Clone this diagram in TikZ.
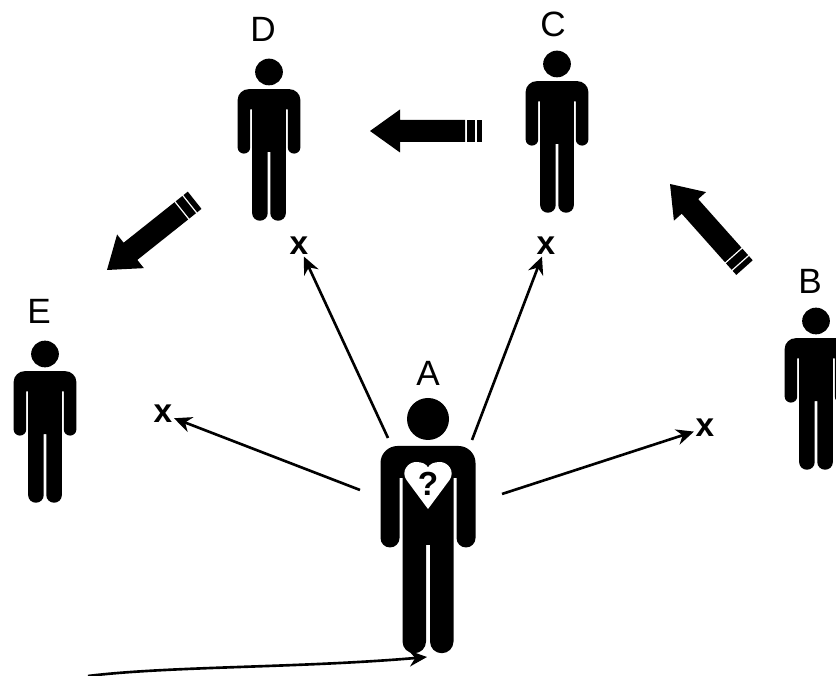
\documentclass[tikz,border=0pt]{standalone}
\usepackage{fontspec}
\setmainfont{Liberation Sans}
\usetikzlibrary{arrows.meta}

\tikzset{
person/.pic={
\fill[black] (0,0) circle [radius=0.42];
\fill[black] (0,-0.54) -- (0.61,-0.54) arc [start angle=90, end angle=0, radius=0.34]
-- (0.95,-2.38) arc [start angle=0, end angle=-180, radius=0.19]
-- (0.57,-1.18) -- (0.51,-1.18)
-- (0.51,-4.45) arc [start angle=0, end angle=-180, radius=0.235]
-- (0.04,-2.52) -- (-0.04,-2.52)
-- (-0.04,-4.45) arc [start angle=0, end angle=-180, radius=0.235]
-- (-0.51,-1.18) -- (-0.57,-1.18)
-- (-0.57,-2.38) arc [start angle=0, end angle=-180, radius=0.19]
-- (-0.95,-0.88) arc [start angle=180, end angle=90, radius=0.34] -- cycle;
},
fatarrow/.pic={
\fill[black] (0,0) -- (0.6,0.43) -- (0.6,0.22) -- (1.9,0.22) -- (1.9,-0.22) -- (0.6,-0.22) -- (0.6,-0.43) -- cycle;
\fill[black] (1.93,-0.22) rectangle (2.1,0.22);
\fill[black] (2.13,-0.22) rectangle (2.24,0.22);
},
small/.style={xscale=0.66, yscale=0.635},
letter/.style={font=\fontsize{20}{24}\selectfont, inner sep=0pt},
cross/.style={font=\fontsize{19}{23}\selectfont\bfseries, inner sep=0pt, outer sep=1pt},
pointer/.style={-{Stealth[length=10pt, width=9pt]}, line width=1.5pt}
}

\begin{document}
\begin{tikzpicture}[scale=1, rotate=0]

\useasboundingbox (0,0) rectangle (16.72,13.52);

% People round A
\path (5.38,12.08) pic[small] {person};
\path (11.14,12.24) pic[small] {person};
\path (0.9,6.44) pic[small] {person};
\path (16.32,7.1) pic[small] {person};

% A with the heart
\path (8.56,5.14) pic {person};
\fill[white] (8.56,3.34) -- (8.13,3.92) .. controls (8.01,4.09) and (8.16,4.28) .. (8.32,4.28)
.. controls (8.44,4.28) and (8.53,4.24) .. (8.56,4.17)
.. controls (8.59,4.24) and (8.68,4.28) .. (8.8,4.28)
.. controls (8.96,4.28) and (9.11,4.09) .. (8.99,3.92) -- cycle;

\path
(8.56,3.84) node[font=\fontsize{19}{22}\selectfont\bfseries, inner sep=0pt] (what) {?}
(8.56,6.06) node[letter] (nameA) {A}
(16.2,7.9) node[letter] (nameB) {B}
(11.06,13.04) node[letter] (nameC) {C}
(5.26,12.94) node[letter] (nameD) {D}
(0.78,7.3) node[letter] (nameE) {E};

% Fat arrows, tip first
\path (7.4,10.9) pic {fatarrow};
\path (2.14,8.12) pic[rotate=38.5] {fatarrow};
\path (13.4,9.84) pic[rotate=-48.3] {fatarrow};

% Crosses and the arrows from A
\path
(5.98,8.6) node[cross] (crossD) {x}
(10.92,8.6) node[cross] (crossC) {x}
(3.26,5.24) node[cross] (crossE) {x}
(14.1,4.96) node[cross] (crossB) {x};

\coordinate (startD) at (7.76,4.76);
\coordinate (startC) at (9.44,4.72);
\coordinate (startE) at (7.2,3.72);
\coordinate (startB) at (10.04,3.64);

\draw[pointer] (startD) -- (crossD);
\draw[pointer] (startC) -- (crossC);
\draw[pointer] (startE) -- (crossE);
\draw[pointer] (startB) -- (crossB);

% Curve along the bottom
\coordinate (curvestart) at (1.76,0);
\coordinate (curveend) at (8.54,0.38);
\draw[pointer] (curvestart) .. controls (3.4,0.2) and (6,0.16) .. (curveend);

\end{tikzpicture}
\end{document}
